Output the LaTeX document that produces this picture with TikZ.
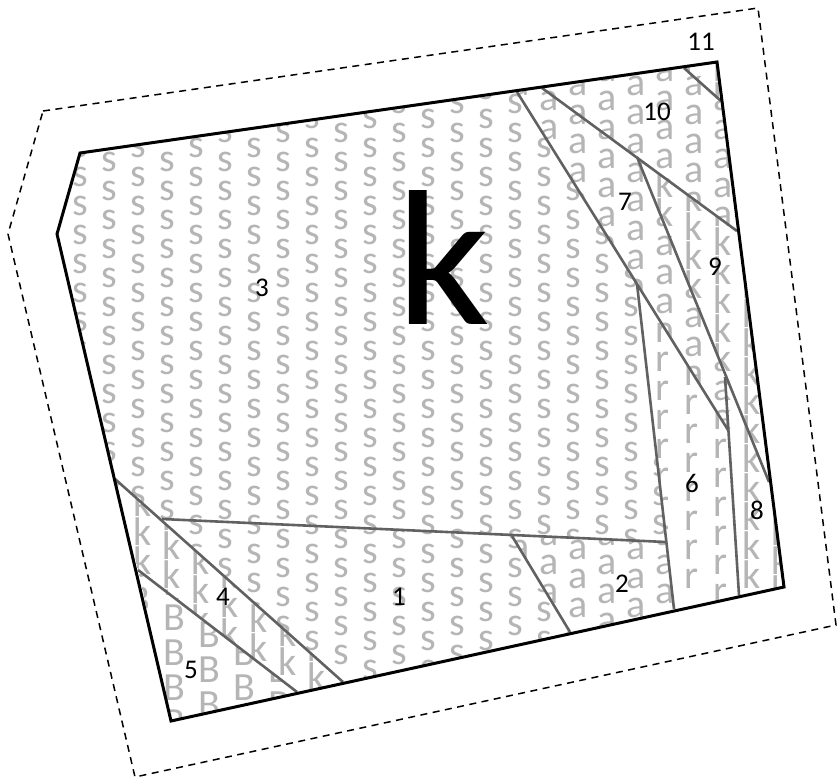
\documentclass[tikz,border=0pt]{standalone}
\usepackage{fontspec}
\setmainfont{Carlito}
\usetikzlibrary{positioning}

\newcommand{\fillpatch}[7]{%
  \begin{scope}
    \clip #7;
    \foreach \n in {#5} {
      \foreach \m in {#6} {
        \pgfmathsetmacro{\px}{#2+#4*\n}
        \pgfmathsetmacro{\py}{#3+#4*\m-0.5*#4*mod(\n+100,2)}
        \node [letter] (l-\n-\m) at (\px,\py) {#1};
      }
    }
  \end{scope}
}

\begin{document}
\begin{tikzpicture}[x=1pt, y=-1pt]

% Define styles
\tikzstyle{letter} = [anchor=base west, inner sep=0pt, text=gray!58, font=\fontsize{40}{40}\selectfont]
\tikzstyle{number} = [inner sep=0pt, text=black, font=\fontsize{27}{27}\selectfont]
\tikzstyle{outline} = [line width=3pt, line join=miter, draw=black]
\tikzstyle{seam} = [line width=2.6pt, draw=black!62]
\tikzstyle{cutline} = [line width=1.5pt, draw=black, dash pattern=on 7pt off 5.5pt]

\useasboundingbox (0,0) rectangle (838,782);

% Outline corners
\coordinate (topleft) at (80,153);
\coordinate (topright) at (717,62);
\coordinate (botright) at (784,587);
\coordinate (botleft) at (171,721);
\coordinate (leftmid) at (57,234);

% Seam ends
\coordinate (a1) at (115,479);
\coordinate (a2) at (343,682);
\coordinate (b1) at (138,570);
\coordinate (b2) at (297,692);
\coordinate (c1) at (162,519);
\coordinate (c2) at (666,542);
\coordinate (d1) at (512,536);
\coordinate (d2) at (570,632);
\coordinate (e1) at (637,284);
\coordinate (e2) at (674,609);
\coordinate (f1) at (517,92);
\coordinate (f2) at (728,430);
\coordinate (g1) at (725,377);
\coordinate (g2) at (739,595);
\coordinate (h1) at (542,88);
\coordinate (h2) at (737,231);
\coordinate (i1) at (637,157);
\coordinate (i2) at (769,482);
\coordinate (j1) at (684,68);
\coordinate (j2) at (721,101);

% Cut line
\coordinate (cut1) at (43,111);
\coordinate (cut2) at (758,8);
\coordinate (cut3) at (836,625);
\coordinate (cut4) at (135,777);
\coordinate (cut5) at (8,234);

% Patch letters
\fillpatch{s}{72}{186}{29}{-1,...,20}{-4,...,13}{(topleft) -- (f1) -- (e1) -- (c2) -- (c1) -- (a1) -- (leftmid) -- cycle}
\fillpatch{s}{72}{186}{29}{3,...,17}{12,...,17}{(c1) -- (c2) -- (d1) -- (d2) -- (a2) -- cycle}
\fillpatch{a}{75}{197}{29}{15,...,20}{12,...,15}{(d1) -- (c2) -- (e2) -- (d2) -- cycle}
\fillpatch{k}{75}{197}{29}{1,...,9}{10,...,17}{(a1) -- (a2) -- (b2) -- (b1) -- cycle}
\fillpatch{B}{163}{630}{35}{-1,...,3}{-2,...,3}{(b1) -- (b2) -- (botleft) -- cycle}
\fillpatch{r}{75}{197}{29}{19,...,22}{2,...,14}{(e1) -- (f2) -- (g2) -- (e2) -- cycle}
\fillpatch{a}{75}{197}{29}{15,...,22}{-4,...,8}{(f1) -- (h1) -- (i1) -- (g1) -- (f2) -- (e1) -- cycle}
\fillpatch{k}{75}{197}{29}{22,...,24}{6,...,14}{(g1) -- (i2) -- (botright) -- (g2) -- cycle}
\fillpatch{k}{75}{197}{29}{19,...,23}{-1,...,10}{(i1) -- (h2) -- (i2) -- cycle}
\fillpatch{a}{75}{197}{29}{16,...,22}{-5,...,1}{(h1) -- (j1) -- (j2) -- (h2) -- cycle}
\fillpatch{k}{75}{197}{29}{21,...,22}{-5,...,-3}{(j1) -- (topright) -- (j2) -- cycle}

% Seams
\draw [seam] (a1) -- (a2);
\draw [seam] (b1) -- (b2);
\draw [seam] (c1) -- (c2);
\draw [seam] (d1) -- (d2);
\draw [seam] (e1) -- (e2);
\draw [seam] (f1) -- (e1) -- (f2);
\draw [seam] (g1) -- (g2);
\draw [seam] (h1) -- (h2);
\draw [seam] (i1) -- (i2);
\draw [seam] (j1) -- (j2);

% Outlines
\draw [outline] (topleft) -- (topright) -- (botright) -- (botleft) -- (leftmid) -- cycle;
\draw [cutline] (cut1) -- (cut2) -- (cut3) -- (cut4) -- (cut5) -- cycle;

% Patch numbers
\node [number] (n1) at (399,597) {1};
\node [number] (n2) at (622,584) {2};
\node [number] (n3) at (262,288) {3};
\node [number] (n4) at (223,597) {4};
\node [number] (n5) at (191,670) {5};
\node [number] (n6) at (692,483) {6};
\node [number] (n7) at (625,202) {7};
\node [number] (n8) at (757,510) {8};
\node [number] (n9) at (715,267) {9};
\node [number] (n10) at (657,112) {10};
\node [number] (n11) at (701,42) {11};

% Block letter
\node [anchor=base west, inner sep=0pt, xscale=1.07, font=\fontsize{193}{193}\selectfont] (bigk) at (396,324) {k};

\end{tikzpicture}
\end{document}
